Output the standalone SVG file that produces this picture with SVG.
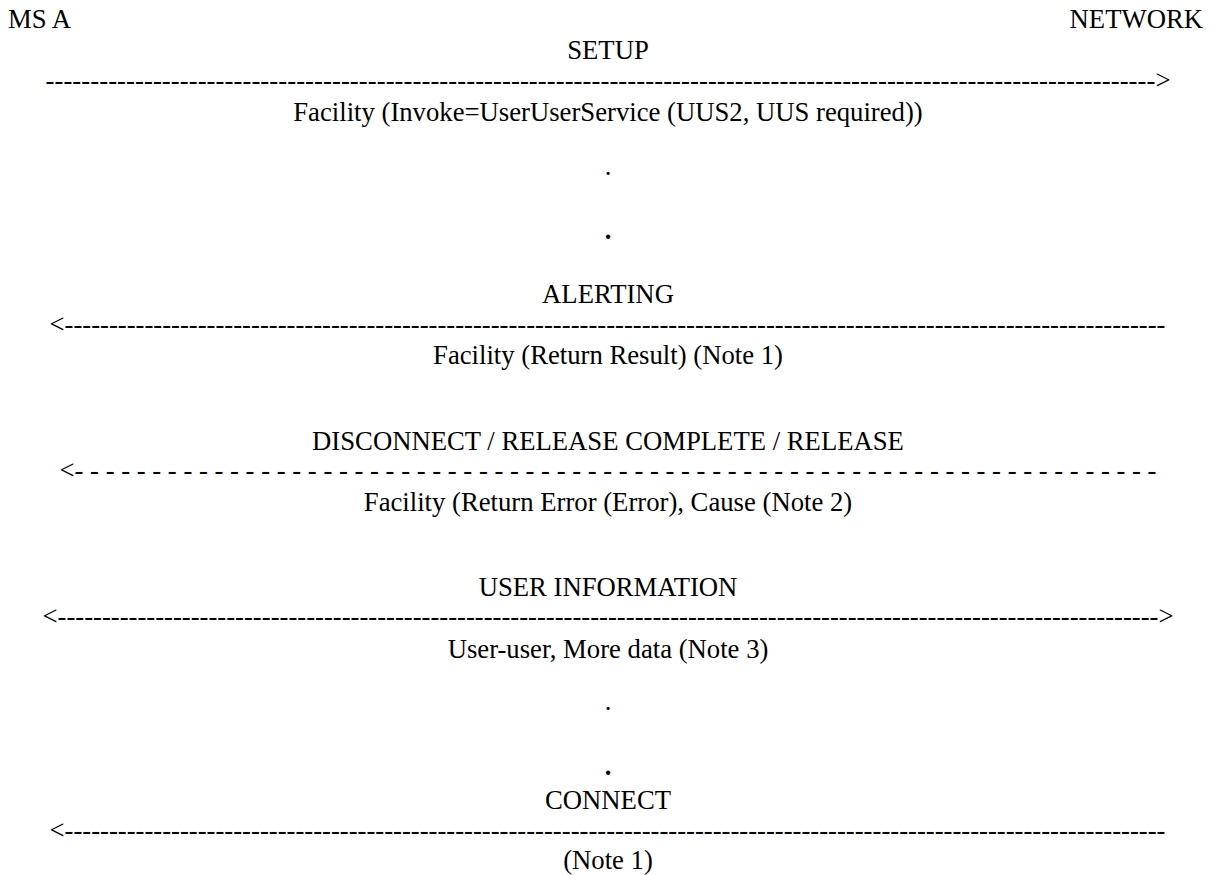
<svg xmlns="http://www.w3.org/2000/svg" width="1213" height="875" viewBox="0 0 1213 875" font-family="'Liberation Serif', serif">
<style>
  text { font-family: 'Liberation Serif', 'Times New Roman', Times, serif; font-size: 26.7px; fill: #000; }
  .c { text-anchor: middle; }
  .b { font-weight: bold; }
</style>
<rect width="1213" height="875" fill="#fff"/>
<g id="msa"><text x="8" y="28">MS A</text></g>
<g id="network"><text x="1203" y="28" text-anchor="end">NETWORK</text></g>

<g id="labels">
  <g id="setup"><text class="c" x="608" y="59">SETUP</text>
    <text class="c" x="608" y="121">Facility (Invoke=UserUserService (UUS2, UUS required))</text></g>
  <g id="dots1"><text class="c" x="608" y="175">.</text>
    <text class="c b" x="608" y="239">.</text></g>
  <g id="alerting"><text class="c" x="608" y="303">ALERTING</text>
    <text class="c" x="608" y="364">Facility (Return Result) (Note 1)</text></g>
  <g id="disconnect"><text class="c" x="608" y="450">DISCONNECT / RELEASE COMPLETE / RELEASE</text>
    <text class="c" x="608" y="511">Facility (Return Error (Error), Cause (Note 2)</text></g>
  <g id="userinfo"><text class="c" x="608" y="596">USER INFORMATION</text>
    <text class="c" x="608" y="658">User-user, More data (Note 3)</text></g>
  <g id="dots2"><text class="c" x="608" y="710">.</text>
    <text class="c b" x="608" y="774.5">.</text></g>
  <g id="connect"><text class="c" x="608" y="809">CONNECT</text>
    <text class="c" x="608" y="869">(Note 1)</text></g>
</g>

<g id="connectors">
  <text x="45.5" y="88.6" textLength="1125" lengthAdjust="spacing">----------------------------------------------------------------------------------------------------------------------------&gt;</text>
  <text x="49.5" y="332.5" textLength="1116" lengthAdjust="spacing">&lt;----------------------------------------------------------------------------------------------------------------------------</text>
  <text x="59.5" y="479" textLength="1097" lengthAdjust="spacing">&lt;- - - - - - - - - - - - - - - - - - - - - - - - - - - - - - - - - - - - - - - - - - - - - - - - - - - - - - - - - - - - - - - - - - - - - -</text>
  <text x="42.5" y="625.4" textLength="1131" lengthAdjust="spacing">&lt;----------------------------------------------------------------------------------------------------------------------------&gt;</text>
  <text x="49.5" y="839" textLength="1116" lengthAdjust="spacing">&lt;----------------------------------------------------------------------------------------------------------------------------</text>
</g>
</svg>
